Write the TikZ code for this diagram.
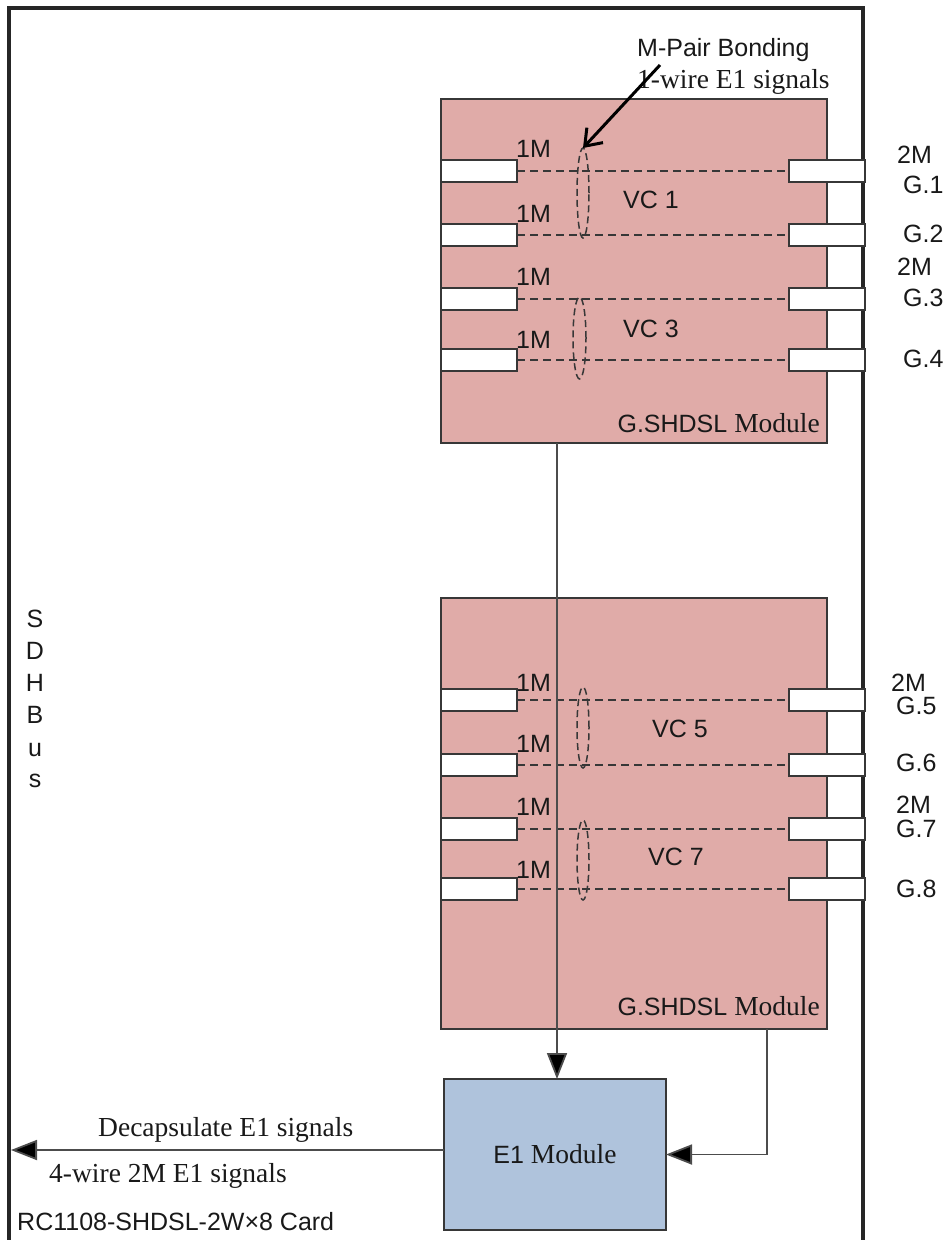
\documentclass[tikz,border=0pt]{standalone}
\usepackage{fontspec}
\setmainfont{Liberation Serif}
\newfontfamily\arial{Liberation Sans}
\usetikzlibrary{arrows.meta,shapes.geometric}
\definecolor{modfill}{RGB}{224,171,168}
\definecolor{e1fill}{RGB}{175,195,220}
\definecolor{edge}{RGB}{55,55,55}
\tikzset{
  module/.style={draw=edge, line width=2pt, fill=modfill, inner sep=0pt, outer sep=0pt, rectangle},
  e1box/.style={draw=edge, line width=2pt, fill=e1fill, inner sep=0pt, outer sep=0pt, rectangle},
  port/.style={draw=edge, line width=2pt, fill=white, minimum width=76pt, minimum height=22pt, inner sep=0pt, outer sep=0pt, rectangle},
  link/.style={draw=edge, line width=1.7pt, dash pattern=on 8pt off 5pt},
  bond/.style={draw=edge, line width=1.5pt, dash pattern=on 7pt off 4pt, ellipse, inner sep=0pt, outer sep=0pt, minimum width=12pt},
  sans/.style={font=\arial\fontsize{25}{30}\selectfont, inner sep=0pt, text=black!90},
  serif/.style={font=\fontsize{27.5}{32}\selectfont, inner sep=0pt, text=black!90},
  arr/.style={draw=black!70, line width=1.8pt, -{Triangle[length=26pt,width=20pt,fill=black]}},
}
\begin{document}
\begin{tikzpicture}[x=1pt,y=-1pt]
\useasboundingbox (0,0) rectangle (950,1240);
% card frame
\draw[line width=3.2pt, black!85] (9,1245) -- (9,8) -- (863,8) -- (863,1245);
% modules
\node[module, minimum width=386pt, minimum height=344pt] (m1) at (634,271) {};
\node[module, minimum width=386pt, minimum height=431pt] (m2) at (634,813.5) {};
\node[e1box, minimum width=222pt, minimum height=151pt] (e1) at (555,1154.5)
  {\color{black!90}\arial\fontsize{25}{30}\selectfont E1 \rmfamily\fontsize{27.5}{32}\selectfont Module};
% ports
\foreach \n/\y in {1/171,2/235,3/299,4/360,5/700,6/765,7/829,8/889}{
  \node[port] (pl\n) at (479,\y) {};
  \node[port] (pr\n) at (826.5,\y) {};
  \draw[link] (pl\n.east) -- (pr\n.west);
}
% 1M labels
\foreach \n/\y in {1/157,2/222,3/285,4/348,5/691,6/752,7/815,8/878}{
  \node[sans, anchor=base west] (lm\n) at (516,\y) {1M};
}
% bonding ellipses
\node[bond, minimum height=90pt] (b1) at (583,193) {};
\node[bond, minimum width=13pt, minimum height=82pt] (b3) at (579.5,338) {};
\node[bond, minimum height=81pt] (b5) at (583,727.5) {};
\node[bond, minimum height=80pt] (b7) at (583,860) {};
% VC labels
\node[sans, anchor=base west] (vc1) at (623,208) {VC 1};
\node[sans, anchor=base west] (vc3) at (623,337) {VC 3};
\node[sans, anchor=base west] (vc5) at (652,737) {VC 5};
\node[sans, anchor=base west] (vc7) at (648,865) {VC 7};
% module titles
\node[anchor=base east, inner sep=0pt, text=black!90] (t1) at (820,432)
  {\arial\fontsize{25}{30}\selectfont G.SHDSL \rmfamily\fontsize{27.5}{32}\selectfont Module};
\node[anchor=base east, inner sep=0pt, text=black!90] (t2) at (820,1015)
  {\arial\fontsize{25}{30}\selectfont G.SHDSL \rmfamily\fontsize{27.5}{32}\selectfont Module};
% right side labels
\node[sans, anchor=base west] (r2a) at (897,163) {2M};
\node[sans, anchor=base west] (g1) at (903,193) {G.1};
\node[sans, anchor=base west] (g2) at (903,242) {G.2};
\node[sans, anchor=base west] (r2b) at (897,275) {2M};
\node[sans, anchor=base west] (g3) at (903,306) {G.3};
\node[sans, anchor=base west] (g4) at (903,367) {G.4};
\node[sans, anchor=base west] (r2c) at (891,691) {2M};
\node[sans, anchor=base west] (g5) at (896,714) {G.5};
\node[sans, anchor=base west] (g6) at (896,771) {G.6};
\node[sans, anchor=base west] (r2d) at (896,813) {2M};
\node[sans, anchor=base west] (g7) at (896,837) {G.7};
\node[sans, anchor=base west] (g8) at (896,897) {G.8};
% SDH Bus
\foreach \c/\y [count=\i] in {S/627,D/659,H/691,B/723,u/756,s/787}{
  \node[sans, anchor=base] (sdh\i) at (35,\y) {\c};
}
% M-pair bonding annotation
\node[sans, anchor=base west] (mpb) at (637,56) {M-Pair Bonding};
\node[serif, anchor=base west] (w1) at (637,88) {1-wire E1 signals};
\coordinate (mpa) at (660,65);
\draw[line width=3pt, black, -{Straight Barb[length=15pt,width=22pt]}] (mpa) -- (b1.north);
% connectors
\draw[arr] ([xshift=-77pt]m1.south) -- ([xshift=-77pt]m1.south |- e1.north);
\draw[arr] ([xshift=-60pt]m2.south east) |- (e1.east);
\coordinate (bus) at (11,1150);
\draw[arr] (e1.west |- bus) -- (bus);
% bottom texts
\node[serif, anchor=base west] (dec) at (98,1136) {Decapsulate E1 signals};
\node[serif, anchor=base west] (fw) at (49,1182) {4-wire 2M E1 signals};
\node[sans, anchor=base west] (card) at (17,1230) {RC1108-SHDSL-2W×8 Card};
\end{tikzpicture}
\end{document}
